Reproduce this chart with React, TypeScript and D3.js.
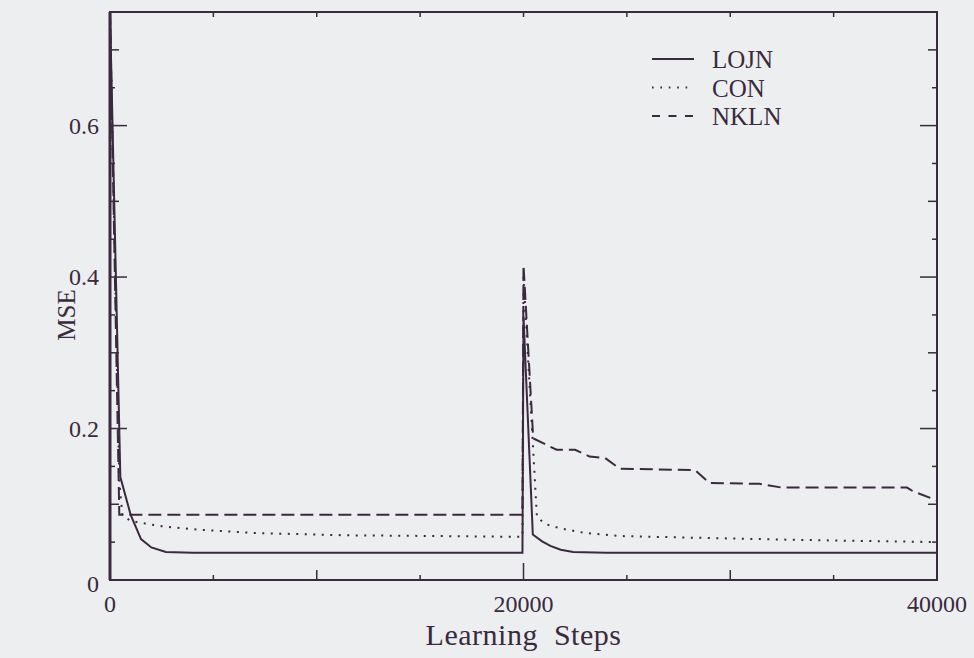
import { useEffect, useRef } from 'react';
import * as d3 from 'd3';

// LOJN (solid)
const lojnSteps = [0, 500, 1000, 1500, 2000, 2700, 4000, 8000, 12000, 16000, 19950, 20000, 20450, 20900, 21300, 21800, 22400, 24000, 28000, 32000, 36000, 40000];
const lojnMse = [0.75, 0.136, 0.086, 0.054, 0.043, 0.037, 0.036, 0.036, 0.036, 0.036, 0.036, 0.348, 0.060, 0.051, 0.045, 0.040, 0.037, 0.036, 0.036, 0.036, 0.036, 0.036];

// CON (dotted)
const conSteps = [0, 450, 600, 1000, 1600, 2500, 4000, 7000, 11500, 16000, 19950, 20000, 20650, 21050, 21800, 23000, 24700, 28000, 33200, 40000];
const conMse = [0.75, 0.13, 0.085, 0.078, 0.075, 0.071, 0.067, 0.062, 0.059, 0.058, 0.057, 0.40, 0.083, 0.074, 0.068, 0.062, 0.058, 0.056, 0.053, 0.050];

// NKLN (dashed)
const nklnSteps = [0, 450, 19950, 20000, 20470, 21600, 22500, 23200, 23950, 24650, 28300, 29000, 31400, 32500, 38550, 38850, 40000];
const nklnMse = [0.75, 0.086, 0.086, 0.416, 0.187, 0.172, 0.172, 0.163, 0.161, 0.147, 0.145, 0.128, 0.127, 0.122, 0.122, 0.117, 0.105];

const seriesNames = ['LOJN', 'CON', 'NKLN'];
const xTickLabels = [0, 20000, 40000];
const yTickLabels = [0, 0.2, 0.4, 0.6];

const INK = '#3a2a3e';
const FONT = '"Liberation Serif", "Times New Roman", serif';

function App() {
  const svgRef = useRef(null);

  useEffect(() => {
    const width = 974;
    const height = 658;
    const margin = { top: 12, right: 37, bottom: 78, left: 110 };
    const innerWidth = width - margin.left - margin.right;
    const innerHeight = height - margin.top - margin.bottom;

    d3.select(svgRef.current).selectAll('*').remove();

    const svg = d3.select(svgRef.current)
      .attr('width', width)
      .attr('height', height);

    svg.append('rect')
      .attr('width', width)
      .attr('height', height)
      .attr('fill', '#edeef0');

    const g = svg.append('g')
      .attr('transform', `translate(${margin.left},${margin.top})`);

    const x = d3.scaleLinear().domain([0, 40000]).range([0, innerWidth]);
    const y = d3.scaleLinear().domain([0, 0.75]).range([innerHeight, 0]);

    g.append('clipPath').attr('id', 'plot-clip')
      .append('rect')
      .attr('width', innerWidth)
      .attr('height', innerHeight);

    // ticks on all four sides, pointing inward
    const xTickLen = v => (v % 20000 === 0 ? 17 : v % 10000 === 0 ? 10 : 5);
    d3.range(5000, 40000, 5000).forEach(v => {
      const len = xTickLen(v);
      g.append('line')
        .attr('x1', x(v)).attr('x2', x(v))
        .attr('y1', innerHeight).attr('y2', innerHeight - len)
        .attr('stroke', INK).attr('stroke-width', 1.5);
      g.append('line')
        .attr('x1', x(v)).attr('x2', x(v))
        .attr('y1', 0).attr('y2', Math.min(len, 5))
        .attr('stroke', INK).attr('stroke-width', 1.5);
    });

    const yTickLen = i => (i % 4 === 0 ? 17 : i % 2 === 0 ? 9 : 5);
    d3.range(1, 15).forEach(i => {
      const v = i * 0.05;
      const len = yTickLen(i);
      g.append('line')
        .attr('x1', 0).attr('x2', len)
        .attr('y1', y(v)).attr('y2', y(v))
        .attr('stroke', INK).attr('stroke-width', 1.5);
      g.append('line')
        .attr('x1', innerWidth).attr('x2', innerWidth - len)
        .attr('y1', y(v)).attr('y2', y(v))
        .attr('stroke', INK).attr('stroke-width', 1.5);
    });

    // frame
    g.append('rect')
      .attr('width', innerWidth)
      .attr('height', innerHeight)
      .attr('fill', 'none')
      .attr('stroke', INK)
      .attr('stroke-width', 2);
    g.append('line')
      .attr('x1', 0).attr('x2', 0)
      .attr('y1', 0).attr('y2', innerHeight)
      .attr('stroke', INK)
      .attr('stroke-width', 3);

    // tick labels
    g.selectAll('.xlab')
      .data(xTickLabels)
      .join('text')
      .attr('x', d => x(d))
      .attr('y', innerHeight + 32)
      .attr('text-anchor', 'middle')
      .attr('font-family', FONT)
      .attr('font-size', 24)
      .attr('fill', INK)
      .text(d => d);

    g.selectAll('.ylab')
      .data(yTickLabels)
      .join('text')
      .attr('x', -11)
      .attr('y', d => y(d) + (d === 0 ? 12 : 8))
      .attr('text-anchor', 'end')
      .attr('font-family', FONT)
      .attr('font-size', 24)
      .attr('fill', INK)
      .text(d => (d === 0 ? '0' : d.toFixed(1)));

    // axis titles
    g.append('text')
      .attr('x', innerWidth / 2)
      .attr('y', innerHeight + 65)
      .attr('text-anchor', 'middle')
      .attr('font-family', FONT)
      .attr('font-size', 30)
      .attr('letter-spacing', 0.5)
      .attr('word-spacing', 8)
      .attr('fill', INK)
      .text('Learning Steps');

    g.append('text')
      .attr('transform', 'rotate(-90)')
      .attr('x', -(y(0.35)))
      .attr('y', -35)
      .attr('text-anchor', 'middle')
      .attr('font-family', FONT)
      .attr('font-size', 25)
      .attr('fill', INK)
      .text('MSE');

    // curves
    const line = d3.line()
      .x(d => x(d[0]))
      .y(d => y(d[1]));

    const curves = [
      { steps: lojnSteps, mse: lojnMse, dash: null, legendDash: null },
      { steps: conSteps, mse: conMse, dash: '2,6.5', legendDash: '1.6,6.8' },
      { steps: nklnSteps, mse: nklnMse, dash: '13,6', legendDash: '8,8.5' }
    ];

    const plot = g.append('g').attr('clip-path', 'url(#plot-clip)');
    curves.forEach(c => {
      plot.append('path')
        .datum(c.steps.map((s, i) => [s, c.mse[i]]))
        .attr('fill', 'none')
        .attr('stroke', INK)
        .attr('stroke-width', 2)
        .attr('stroke-dasharray', c.dash)
        .attr('d', line);
    });

    // legend
    const legend = svg.append('g').attr('transform', 'translate(652, 59)');
    seriesNames.forEach((name, i) => {
      const ly = i * 28.5;
      legend.append('line')
        .attr('x1', 0).attr('x2', 42)
        .attr('y1', ly).attr('y2', ly)
        .attr('stroke', INK)
        .attr('stroke-width', 1.8)
        .attr('stroke-dasharray', curves[i].legendDash);
      legend.append('text')
        .attr('x', 60)
        .attr('y', ly + 9)
        .attr('font-family', FONT)
        .attr('font-size', 25)
        .attr('fill', INK)
        .text(name);
    });
  }, []);

  return (
    <svg ref={svgRef} style={{ position: 'absolute', left: 0, top: 0, display: 'block' }}></svg>
  );
}

export default App;
